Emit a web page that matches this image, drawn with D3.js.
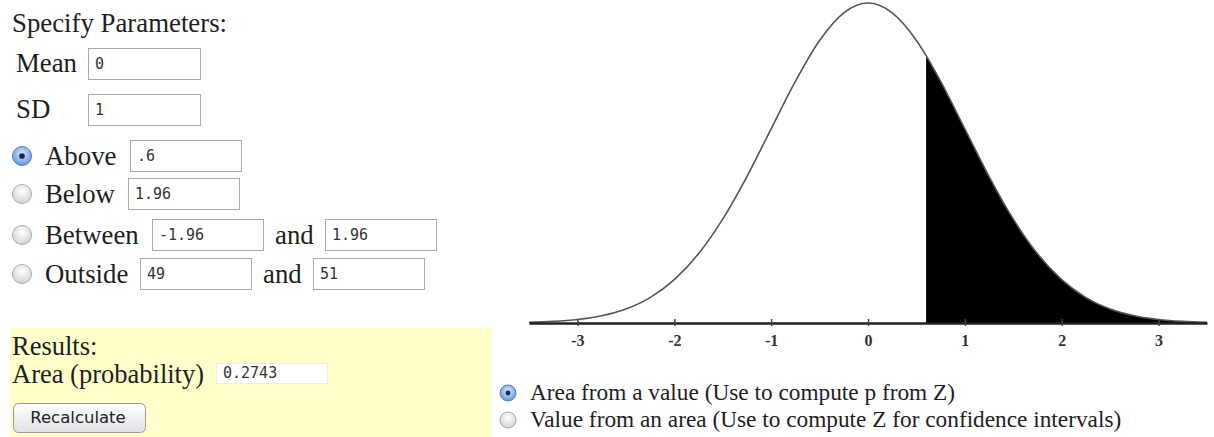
<!DOCTYPE html>
<html lang="en">
<head>
    <meta charset="UTF-8">
    <title>Normal distribution calculator</title>
    <script src="https://d3js.org/d3.v7.min.js"></script>
    <style>
        body { margin: 0; background: #fff; }
        .lbl { font-family: "Liberation Serif", "Times New Roman", serif; fill: #1e1e1e; }
        .mono { font-family: "DejaVu Sans Mono", monospace; font-size: 15px; fill: #333; }
        .curve { fill: none; stroke: #555; stroke-width: 1.6px; }
        .shade { fill: #000; }
        .axis path { stroke: #222; stroke-width: 2.5px; }
        .axis line { stroke: #444; stroke-width: 1.5px; }
        .axis text { font-family: "Liberation Serif", serif; font-size: 16px; font-weight: bold; fill: #333; }
    </style>
</head>
<body>
<svg id="page" width="1214" height="437"></svg>
<script>
    // standard normal curve, density
    const zValues   = [-3.5, -3.25, -3, -2.75, -2.5, -2.25, -2, -1.75, -1.5, -1.25, -1, -0.75, -0.5, -0.25, 0,
                       0.25, 0.5, 0.6, 0.75, 1, 1.25, 1.5, 1.75, 2, 2.25, 2.5, 2.75, 3, 3.25, 3.5];
    const densities = [0.0009, 0.0020, 0.0044, 0.0091, 0.0175, 0.0317, 0.0540, 0.0863, 0.1295, 0.1826, 0.2420, 0.3011, 0.3521, 0.3867, 0.3989,
                       0.3867, 0.3521, 0.3332, 0.3011, 0.2420, 0.1826, 0.1295, 0.0863, 0.0540, 0.0317, 0.0175, 0.0091, 0.0044, 0.0020, 0.0009];
    const shadeFrom = 0.6;   // "Above .6"
    const tickValues = [-3, -2, -1, 0, 1, 2, 3];
    const tickLabels = ["-3", "-2", "-1", "0", "1", "2", "3"];

    // form contents
    const paramLabels = ["Mean", "SD"];
    const paramValues = ["0", "1"];
    const choiceLabels = ["Above", "Below", "Between", "Outside"];
    const choiceFirst  = [".6", "1.96", "-1.96", "49"];
    const choiceSecond = [null, null, "1.96", "51"];
    const resultValue = "0.2743";
    const modeLabels = ["Area from a value (Use to compute p from Z)",
                        "Value from an area (Use to compute Z for confidence intervals)"];

    const svg = d3.select("#page");
    const defs = svg.append("defs");

    // radio gradients
    const off = defs.append("radialGradient").attr("id", "radioOff").attr("cx", "50%").attr("cy", "35%").attr("r", "65%");
    off.append("stop").attr("offset", "0%").attr("stop-color", "#ffffff");
    off.append("stop").attr("offset", "100%").attr("stop-color", "#d4d4d4");
    const on = defs.append("radialGradient").attr("id", "radioOn").attr("cx", "50%").attr("cy", "40%").attr("r", "60%");
    on.append("stop").attr("offset", "0%").attr("stop-color", "#dcecfd");
    on.append("stop").attr("offset", "100%").attr("stop-color", "#5d97dc");
    const btn = defs.append("linearGradient").attr("id", "btnGrad").attr("x1", 0).attr("y1", 0).attr("x2", 0).attr("y2", 1);
    btn.append("stop").attr("offset", "0%").attr("stop-color", "#ffffff");
    btn.append("stop").attr("offset", "100%").attr("stop-color", "#e2e2e6");

    function radio(g, cx, cy, r, checked) {
        g.append("circle").attr("cx", cx).attr("cy", cy).attr("r", r)
            .attr("fill", checked ? "url(#radioOn)" : "url(#radioOff)")
            .attr("stroke", checked ? "#5a7fb0" : "#a8a8a8").attr("stroke-width", 1);
        if (checked) {
            g.append("circle").attr("cx", cx).attr("cy", cy).attr("r", r * 0.3).attr("fill", "#1a2a40");
        }
    }

    function textBox(g, x, y, w, h, value, border) {
        g.append("rect").attr("x", x + 0.5).attr("y", y + 0.5).attr("width", w).attr("height", h)
            .attr("fill", "#fff").attr("stroke", border).attr("stroke-width", 1);
        g.append("text").attr("class", "mono").attr("x", x + 7).attr("y", y + h / 2 + 5).text(value);
    }

    // ---------- left form ----------
    const form = svg.append("g");
    form.append("text").attr("class", "lbl").attr("x", 12).attr("y", 32).style("font-size", "26.8px")
        .text("Specify Parameters:");

    const paramY = [48, 94];
    paramLabels.forEach((l, i) => {
        form.append("text").attr("class", "lbl").attr("x", 16).attr("y", paramY[i] + 24)
            .style("font-size", "26.8px").text(l);
        textBox(form, 88, paramY[i], 112, 31, paramValues[i], "#a9a9a9");
    });

    const rowY = [156, 194, 235, 274];      // row centres
    const firstX = [130, 128, 152, 140];
    const andX = [null, null, 275, 263];
    const secondX = [null, null, 325, 313];
    choiceLabels.forEach((l, i) => {
        radio(form, 22, rowY[i], 9.5, i === 0);
        form.append("text").attr("class", "lbl").attr("x", 45).attr("y", rowY[i] + 9)
            .style("font-size", "26.8px").text(l);
        textBox(form, firstX[i], rowY[i] - 16, 111, 31, choiceFirst[i], "#a9a9a9");
        if (choiceSecond[i] !== null) {
            form.append("text").attr("class", "lbl").attr("x", andX[i]).attr("y", rowY[i] + 9)
                .style("font-size", "26.8px").text("and");
            textBox(form, secondX[i], rowY[i] - 16, 111, 31, choiceSecond[i], "#a9a9a9");
        }
    });

    // results panel
    form.append("rect").attr("x", 10).attr("y", 328).attr("width", 482).attr("height", 109).attr("fill", "#ffffcc");
    form.append("text").attr("class", "lbl").attr("x", 12).attr("y", 355).style("font-size", "26.5px").text("Results:");
    form.append("text").attr("class", "lbl").attr("x", 12).attr("y", 383).style("font-size", "26.5px").text("Area (probability)");
    textBox(form, 216, 363, 111, 20, resultValue, "#eeeedd");

    form.append("rect").attr("x", 13.5).attr("y", 403.5).attr("width", 132).attr("height", 29).attr("rx", 5)
        .attr("fill", "url(#btnGrad)").attr("stroke", "#9a9a9a");
    form.append("text").attr("x", 78).attr("y", 423).attr("text-anchor", "middle")
        .style("font-family", "DejaVu Sans, sans-serif").style("font-size", "16.5px").style("fill", "#222")
        .text("Recalculate");

    // ---------- normal curve ----------
    const x = d3.scaleLinear().domain([-3.5, 3.5]).range([529, 1207]);
    const y = d3.scaleLinear().domain([0, 0.3989]).range([323, 3]);
    const pts = zValues.map((z, i) => ({ z: z, d: densities[i] }));

    const chart = svg.append("g");
    const area = d3.area().x(p => x(p.z)).y0(y(0)).y1(p => y(p.d)).curve(d3.curveMonotoneX);
    chart.append("path").attr("class", "shade").attr("d", area(pts.filter(p => p.z >= shadeFrom)));

    const line = d3.line().x(p => x(p.z)).y(p => y(p.d)).curve(d3.curveMonotoneX);
    chart.append("path").attr("class", "curve").attr("d", line(pts));

    const axis = chart.append("g").attr("class", "axis").attr("transform", `translate(0,${y(0)})`)
        .call(d3.axisBottom(x).tickValues(tickValues).tickFormat((d, i) => tickLabels[i])
            .tickSizeOuter(0).tickSizeInner(3));
    axis.selectAll(".tick line").attr("y1", -4).attr("y2", 3);
    axis.selectAll(".tick text").attr("y", 12);

    // ---------- mode choice ----------
    const modeY = [400, 427];
    modeLabels.forEach((l, i) => {
        radio(svg, 508, modeY[i] - 7, 8, i === 0);
        svg.append("text").attr("class", "lbl").attr("x", 530).attr("y", modeY[i])
            .style("font-size", "23.3px").text(l);
    });
</script>
</body>
</html>
